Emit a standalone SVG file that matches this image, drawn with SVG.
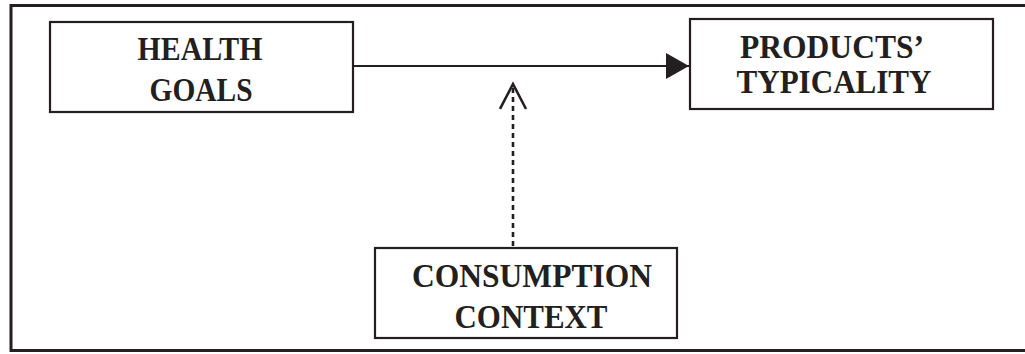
<svg xmlns="http://www.w3.org/2000/svg" width="1025" height="354" viewBox="0 0 1025 354">
  <style>
    .box { fill: #ffffff; stroke: #231f20; stroke-width: 2.2; }
    .label { font-family: "Liberation Serif", "Times New Roman", serif; font-weight: bold; font-size: 33px; fill: #231f20; text-anchor: middle; }
    .solid { stroke: #231f20; stroke-width: 2.2; fill: none; }
    .dashed { stroke: #231f20; stroke-width: 2.6; fill: none; stroke-dasharray: 5 4; }
  </style>
  <defs>
    <marker id="filled" markerUnits="userSpaceOnUse" markerWidth="24" markerHeight="28" refX="23" refY="13" orient="auto">
      <path d="M0,0 L23,13 L0,26 Z" fill="#231f20"/>
    </marker>
    <marker id="open" markerUnits="userSpaceOnUse" markerWidth="30" markerHeight="30" refX="27" refY="14" orient="auto">
      <path d="M2,1 L27,14 L2,27" fill="none" stroke="#231f20" stroke-width="2.6"/>
    </marker>
  </defs>

  <rect width="1025" height="354" fill="#ffffff"/>
  <!-- outer frame -->
  <rect x="11" y="5.5" width="1030" height="345" fill="none" stroke="#231f20" stroke-width="3"/>

  <g id="connectors">
    <line class="solid" x1="353" y1="66" x2="689" y2="66" marker-end="url(#filled)"/>
    <line class="dashed" x1="513" y1="246" x2="513" y2="84" marker-end="url(#open)"/>
  </g>

  <g id="health-goals">
    <rect class="box" x="50" y="22" width="303" height="90"/>
    <text class="label" x="200" y="60" textLength="125" lengthAdjust="spacingAndGlyphs">HEALTH</text>
    <text class="label" x="201" y="101" textLength="103" lengthAdjust="spacingAndGlyphs">GOALS</text>
  </g>

  <g id="products-typicality">
    <rect class="box" x="690" y="19" width="303" height="90"/>
    <text class="label" x="832" y="58" textLength="184" lengthAdjust="spacingAndGlyphs">PRODUCTS’</text>
    <text class="label" x="834" y="93" textLength="195" lengthAdjust="spacingAndGlyphs">TYPICALITY</text>
  </g>

  <g id="consumption-context">
    <rect class="box" x="375" y="248" width="302" height="90"/>
    <text class="label" x="532" y="287" textLength="240" lengthAdjust="spacingAndGlyphs">CONSUMPTION</text>
    <text class="label" x="531" y="328" textLength="153" lengthAdjust="spacingAndGlyphs">CONTEXT</text>
  </g>
</svg>
